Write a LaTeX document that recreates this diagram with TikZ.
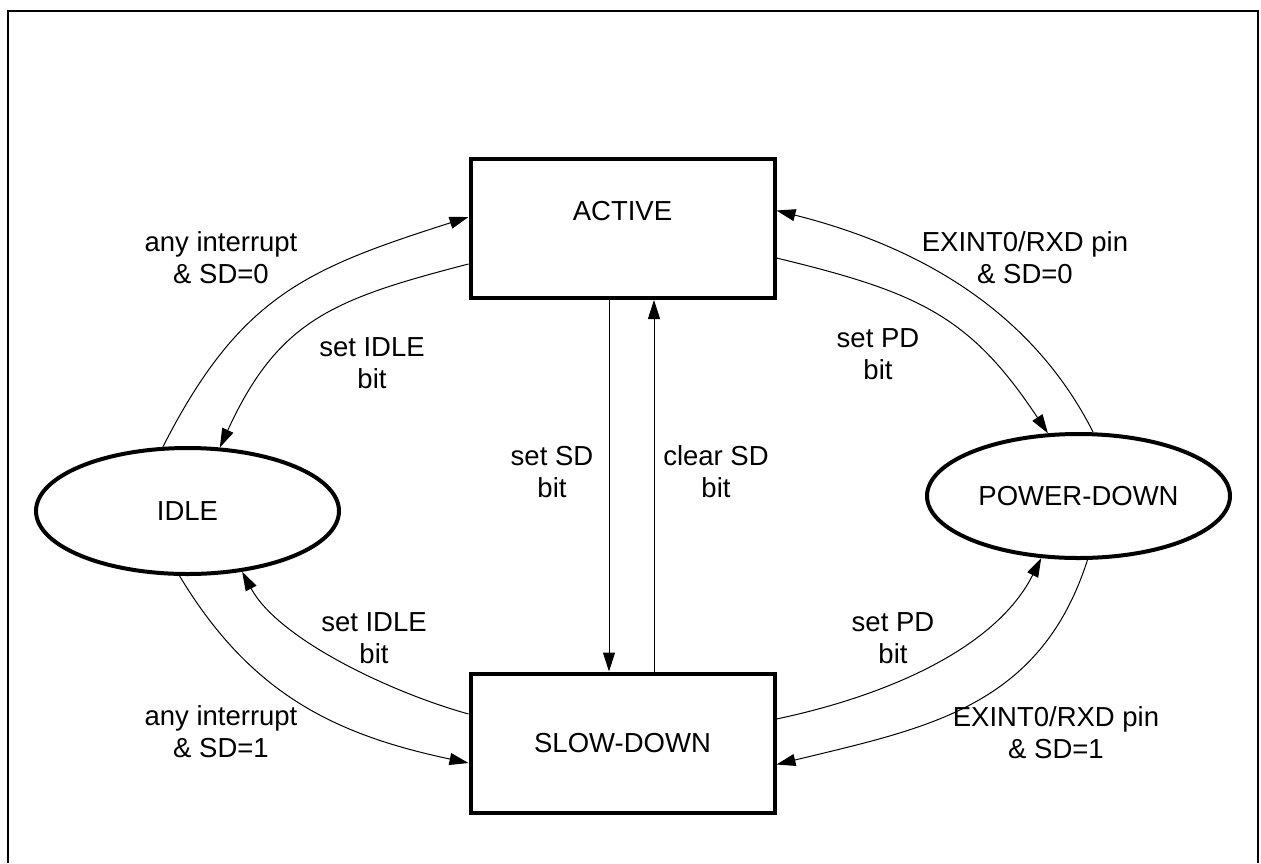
\documentclass[tikz,border=0pt]{standalone}
\usepackage{fontspec}
\setmainfont{Liberation Sans}
\usetikzlibrary{shapes.geometric,arrows.meta}
\begin{document}
\begin{tikzpicture}[x=1pt,y=-1pt,
  font=\fontsize{27.5}{32}\selectfont,
  statebox/.style={draw, line width=4pt, rectangle, minimum width=304pt, minimum height=139pt, inner sep=0pt},
  stateoval/.style={draw, line width=4pt, ellipse, minimum width=303pt, inner sep=0pt},
  conn/.style={line width=1pt, -{Triangle[length=19pt,width=12pt]}},
  lbl/.style={align=center, inner sep=0pt}
]
\useasboundingbox (0,0) rectangle (1261,863);
\draw[line width=2pt] (8,863) -- (8,11) -- (1257.5,11) -- (1257.5,863);

\node[statebox, text height=21pt, text depth=38pt] (active) at (622.5,228.5) {ACTIVE};
\node[statebox] (slow) at (622.5,743) {SLOW-DOWN};
\node[stateoval, minimum height=126pt] (idle) at (187.5,511) {IDLE};
\node[stateoval, minimum height=124pt] (pd) at (1078.5,496) {POWER-DOWN};

% left upper
\draw[conn] (idle.111) .. controls (240,295.5) and (307,268.7) .. ([yshift=11.5pt]active.west);
\draw[conn] ([yshift=-35.5pt]active.west) .. controls (333.5,299) and (278.5,319.7) .. (idle.63);
% right upper
\draw[conn] ([yshift=-29.5pt]active.east) .. controls (918.8,292.4) and (970,315.8) .. (pd.116);
\draw[conn] (pd.77) .. controls (1030,307.4) and (913.8,245) .. ([yshift=18pt]active.east);
% middle
\draw[conn] ([xshift=-13.5pt]active.south) -- ([xshift=-13.5pt]slow.north);
\draw[conn] ([xshift=31.5pt]slow.north) -- ([xshift=31.5pt]active.south);
% left lower
\draw[conn] ([yshift=29pt]slow.west) .. controls (388.2,691.6) and (277.7,638.2) .. (idle.312);
\draw[conn] (idle.263.5) .. controls (250.2,693.1) and (333.1,734.2) .. ([yshift=-20pt]slow.west);
% right lower
\draw[conn] ([yshift=24pt]slow.east) .. controls (884.6,696.2) and (995.3,649.4) .. (pd.239);
\draw[conn] (pd.278.4) .. controls (1040.3,707.4) and (927.4,727.8) .. ([yshift=-21.5pt]slow.east);

\node[lbl] (l1) at (221,258) {any interrupt\\\& SD=0};
\node[lbl] (l2) at (372,363) {set IDLE\\bit};
\node[lbl] (l3) at (1025,258) {EXINT0/RXD pin\\\& SD=0};
\node[lbl] (l4) at (878,354) {set PD\\bit};
\node[lbl] (l5) at (552,472) {set SD\\bit};
\node[lbl] (l6) at (716,472) {clear SD\\bit};
\node[lbl] (l7) at (374,638) {set IDLE\\bit};
\node[lbl] (l8) at (221,732) {any interrupt\\\& SD=1};
\node[lbl] (l9) at (893,638) {set PD\\bit};
\node[lbl] (l10) at (1056,733) {EXINT0/RXD pin\\\& SD=1};
\end{tikzpicture}
\end{document}
